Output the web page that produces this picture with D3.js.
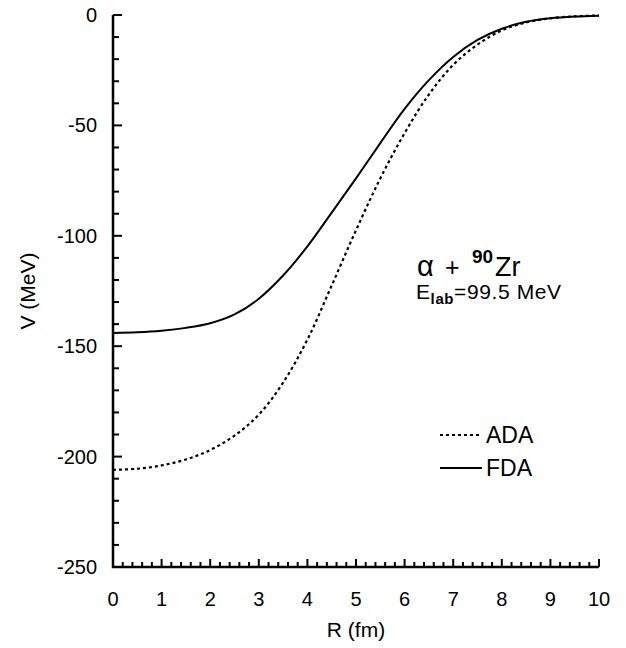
<!DOCTYPE html>
<html>
<head>
<meta charset="utf-8">
<script src="https://cdn.jsdelivr.net/npm/d3@7.9.0/dist/d3.min.js"></script>
<style>
  body { margin: 0; background: #fff; }
  svg { display: block; font-family: "Liberation Sans", Arial, Helvetica, sans-serif; }
</style>
</head>
<body>
<svg id="chart" width="626" height="648"></svg>
<script>
// radius (fm) and potentials (MeV)
const radius = [0, 0.5, 1, 1.5, 2, 2.5, 3, 3.5, 4, 4.5, 5, 5.5, 6, 6.5, 7, 7.5, 8, 8.5, 9, 9.5, 10];
const fda = [-144, -143.7, -143, -141.7, -139.6, -135.6, -128.5, -118, -104.8, -89.5, -74, -58, -42.5, -29.5, -19, -11.3, -6.2, -3.1, -1.5, -0.7, -0.3];
const ada = [-206, -205.5, -204, -201.3, -197, -190.5, -181, -166.5, -147, -122.5, -97.5, -74, -53.5, -36, -22.6, -13.4, -7, -3.4, -1.5, -0.6, -0.25];
const xTicks = [0, 1, 2, 3, 4, 5, 6, 7, 8, 9, 10];
const yTicks = [0, -50, -100, -150, -200, -250];

const svg = d3.select("#chart");
const x = d3.scaleLinear().domain([0, 10]).range([113, 599]);
const y = d3.scaleLinear().domain([-250, 0]).range([567, 15]);

// axes: ticks point inwards
const xMinor = d3.range(0, 10.001, 0.2).map(d => +d.toFixed(1));
const yMinor = d3.range(-250, 0.001, 10);

svg.append("g").selectAll("line").data(xMinor).enter().append("line")
    .attr("x1", d => x(d)).attr("x2", d => x(d))
    .attr("y1", y(-250))
    .attr("y2", d => y(-250) - (Math.abs(d - Math.round(d)) < 1e-6 ? 8 : 5))
    .attr("stroke", "#000").attr("stroke-width", 2);

svg.append("g").selectAll("line").data(yMinor).enter().append("line")
    .attr("y1", d => y(d)).attr("y2", d => y(d))
    .attr("x1", x(0))
    .attr("x2", d => x(0) + (d % 50 === 0 ? 9 : 6))
    .attr("stroke", "#000").attr("stroke-width", 2);

svg.append("path")
    .attr("d", `M${x(0)},${y(0)}V${y(-250)}H${x(10)}`)
    .attr("fill", "none").attr("stroke", "#000").attr("stroke-width", 2.5);

svg.append("g").selectAll("text").data(xTicks).enter().append("text")
    .attr("x", d => x(d)).attr("y", 606)
    .attr("text-anchor", "middle").attr("font-size", 20)
    .text(d => d);

svg.append("g").selectAll("text").data(yTicks).enter().append("text")
    .attr("x", 97).attr("y", d => y(d) + 7)
    .attr("text-anchor", "end").attr("font-size", 20)
    .text(d => d);

svg.append("text").attr("x", 356).attr("y", 637)
    .attr("text-anchor", "middle").attr("font-size", 21).text("R (fm)");
svg.append("text")
    .attr("transform", "translate(35,291) rotate(-90)")
    .attr("text-anchor", "middle").attr("font-size", 21).text("V (MeV)");

// curves
const line = d3.line().x(d => x(d[0])).y(d => y(d[1])).curve(d3.curveCatmullRom);

svg.append("path").datum(radius.map((r, i) => [r, ada[i]]))
    .attr("d", line).attr("fill", "none")
    .attr("stroke", "#000").attr("stroke-width", 2.2).attr("stroke-dasharray", "3,3");

svg.append("path").datum(radius.map((r, i) => [r, fda[i]]))
    .attr("d", line).attr("fill", "none")
    .attr("stroke", "#000").attr("stroke-width", 2);

// reaction label
svg.append("text").attr("x", 417).attr("y", 276).attr("font-size", 29).text("α");
svg.append("text").attr("x", 445).attr("y", 276).attr("font-size", 25).text("+");
svg.append("text").attr("x", 472).attr("y", 263).attr("font-size", 19)
    .attr("font-weight", "bold").text("90");
svg.append("text").attr("x", 495).attr("y", 276).attr("font-size", 27).text("Zr");

const t2 = svg.append("text").attr("x", 416).attr("y", 299)
    .attr("font-size", 21).attr("letter-spacing", 0.6);
t2.append("tspan").text("E");
t2.append("tspan").attr("font-weight", "bold").attr("font-size", 15).attr("dy", 5).text("lab");
t2.append("tspan").attr("dy", -5).text("=99.5 MeV");

// legend
const legend = [{ name: "ADA", dash: "3,3", yy: 435 }, { name: "FDA", dash: null, yy: 468 }];
const lg = svg.append("g").selectAll("g").data(legend).enter().append("g");
lg.append("line")
    .attr("x1", 440).attr("x2", 482)
    .attr("y1", d => d.yy).attr("y2", d => d.yy)
    .attr("stroke", "#000").attr("stroke-width", 2)
    .attr("stroke-dasharray", d => d.dash);
lg.append("text").attr("x", 486).attr("y", d => d.yy + 8)
    .attr("font-size", 23).text(d => d.name);
</script>
</body>
</html>
